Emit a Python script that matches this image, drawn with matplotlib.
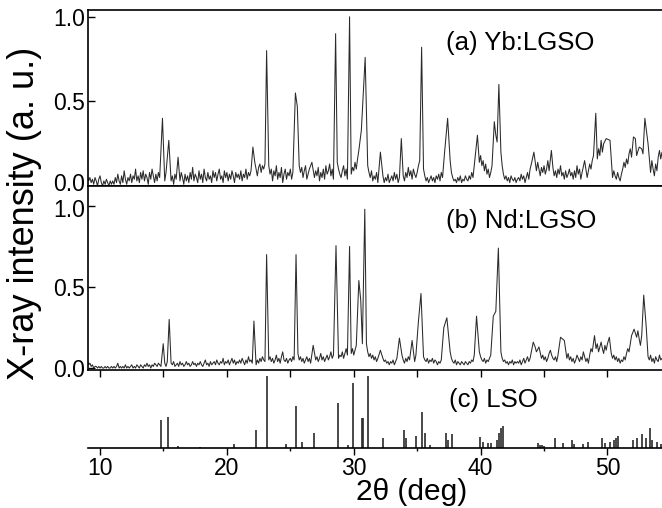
import numpy as np
import matplotlib
matplotlib.use("Agg")
import matplotlib.pyplot as plt
import matplotlib.transforms as mtransforms
from matplotlib.ticker import MultipleLocator

plt.rcParams['font.family'] = ['Liberation Sans', 'DejaVu Sans']

# ---------------- data ----------------
# background noise of the traces, read every 0.1 deg starting at 9.0 deg
bg_start, bg_step = 9.0, 0.1

yb_bg = [
    0.06, 0.03, 0.05, 0.02, 0.04, 0.01, 0.05, 0.03, 0.00, 0.04, 0.06, 0.02, 0.00, 0.03, 0.01, 0.04, 0.02, 0.00, 0.03, 0.01,
    0.03, 0.01, 0.05, 0.02, 0.07, 0.03, 0.01, 0.06, 0.02, 0.09, 0.04, 0.01, 0.05, 0.03, 0.07, 0.02, 0.06, 0.04, 0.10, 0.03,
    0.06, 0.02, 0.08, 0.04, 0.09, 0.03, 0.07, 0.05, 0.01, 0.08, 0.04, 0.10, 0.06, 0.02, 0.07, 0.03, 0.08, 0.05, 0.09, 0.04,
    0.06, 0.03, 0.08, 0.02, 0.05, 0.09, 0.03, 0.06, 0.01, 0.07, 0.04, 0.02, 0.06, 0.03, 0.08, 0.05, 0.01, 0.07, 0.03, 0.06,
    0.02, 0.08, 0.04, 0.11, 0.03, 0.07, 0.05, 0.02, 0.09, 0.04, 0.07, 0.02, 0.10, 0.05, 0.03, 0.08, 0.04, 0.06, 0.02, 0.09,
    0.05, 0.08, 0.03, 0.07, 0.10, 0.04, 0.06, 0.02, 0.09, 0.05, 0.08, 0.03, 0.07, 0.04, 0.09, 0.06, 0.02, 0.08, 0.05, 0.07,
    0.04, 0.09, 0.03, 0.07, 0.05, 0.10, 0.04, 0.08, 0.06, 0.09, 0.12, 0.08, 0.14, 0.10, 0.06, 0.11, 0.13, 0.08, 0.12, 0.10,
    0.13, 0.10, 0.05, 0.12, 0.07, 0.10, 0.03, 0.09, 0.06, 0.12, 0.04, 0.08, 0.05, 0.11, 0.02, 0.07, 0.10, 0.04, 0.08, 0.06,
    0.10, 0.04, 0.08, 0.12, 0.10, 0.14, 0.17, 0.12, 0.08, 0.11, 0.05, 0.09, 0.12, 0.04, 0.07, 0.10, 0.06, 0.13, 0.08, 0.05,
    0.09, 0.06, 0.11, 0.03, 0.08, 0.05, 0.10, 0.04, 0.12, 0.07, 0.09, 0.13, 0.06, 0.10, 0.04, 0.12, 0.08, 0.14, 0.10, 0.07,
    0.05, 0.09, 0.12, 0.06, 0.10, 0.04, 0.08, 0.13, 0.07, 0.11, 0.09, 0.14, 0.10, 0.16, 0.21, 0.18, 0.24, 0.20, 0.22, 0.26,
    0.18, 0.12, 0.08, 0.05, 0.09, 0.03, 0.06, 0.04, 0.08, 0.02, 0.05, 0.07, 0.03, 0.06, 0.02, 0.05, 0.03, 0.07, 0.02, 0.04,
    0.06, 0.03, 0.08, 0.04, 0.07, 0.02, 0.05, 0.09, 0.04, 0.06, 0.03, 0.08, 0.05, 0.11, 0.06, 0.09, 0.04, 0.10, 0.07, 0.05,
    0.08, 0.12, 0.15, 0.20, 0.14, 0.10, 0.06, 0.03, 0.05, 0.02, 0.04, 0.06, 0.03, 0.05, 0.02, 0.06, 0.04, 0.07, 0.03, 0.08,
    0.05, 0.10, 0.14, 0.12, 0.17, 0.20, 0.15, 0.08, 0.05, 0.03, 0.04, 0.02, 0.05, 0.03, 0.06, 0.02, 0.04, 0.03, 0.06, 0.04,
    0.03, 0.06, 0.04, 0.08, 0.05, 0.12, 0.19, 0.16, 0.21, 0.14, 0.18, 0.12, 0.15, 0.09, 0.13, 0.07, 0.10, 0.05, 0.08, 0.12,
    0.24, 0.27, 0.30, 0.26, 0.33, 0.28, 0.20, 0.12, 0.07, 0.04, 0.06, 0.03, 0.05, 0.02, 0.06, 0.04, 0.03, 0.05, 0.02, 0.04,
    0.05, 0.03, 0.07, 0.04, 0.06, 0.02, 0.05, 0.08, 0.04, 0.10, 0.13, 0.08, 0.16, 0.12, 0.09, 0.14, 0.10, 0.06, 0.11, 0.08,
    0.12, 0.07, 0.10, 0.15, 0.09, 0.13, 0.08, 0.11, 0.06, 0.09, 0.05, 0.10, 0.07, 0.12, 0.06, 0.08, 0.04, 0.09, 0.05, 0.07,
    0.10, 0.06, 0.08, 0.04, 0.09, 0.05, 0.12, 0.07, 0.10, 0.04, 0.08, 0.06, 0.11, 0.07, 0.05, 0.09, 0.13, 0.10, 0.15, 0.18,
    0.12, 0.20, 0.16, 0.22, 0.18, 0.27, 0.20, 0.25, 0.23, 0.15, 0.10, 0.14, 0.08, 0.12, 0.05, 0.09, 0.06, 0.04, 0.08, 0.05,
    0.03, 0.07, 0.10, 0.14, 0.11, 0.16, 0.13, 0.19, 0.22, 0.17, 0.25, 0.20, 0.28, 0.18, 0.24, 0.15, 0.30, 0.22, 0.19, 0.32,
    0.18, 0.10, 0.06, 0.12, 0.08, 0.15, 0.10, 0.06, 0.13, 0.09, 0.17, 0.21, 0.16, 0.20, 0.14,
]

nd_bg = [
    0.05, 0.02, 0.03, 0.01, 0.02, 0.00, 0.01, 0.01, 0.00, 0.01, 0.00, 0.01, 0.00, 0.00, 0.01, 0.00, 0.01, 0.00, 0.00, 0.01,
    0.00, 0.01, 0.00, 0.01, 0.03, 0.00, 0.01, 0.00, 0.01, 0.00, 0.02, 0.00, 0.01, 0.00, 0.01, 0.02, 0.00, 0.01, 0.00, 0.02,
    0.01, 0.00, 0.02, 0.01, 0.00, 0.02, 0.01, 0.03, 0.01, 0.02, 0.00, 0.02, 0.01, 0.03, 0.02, 0.01, 0.03, 0.02, 0.01, 0.03,
    0.02, 0.03, 0.01, 0.04, 0.02, 0.01, 0.03, 0.02, 0.04, 0.01, 0.02, 0.03, 0.01, 0.04, 0.02, 0.03, 0.01, 0.02, 0.04, 0.02,
    0.03, 0.01, 0.02, 0.04, 0.02, 0.03, 0.01, 0.03, 0.02, 0.04, 0.02, 0.01, 0.03, 0.05, 0.02, 0.03, 0.01, 0.04, 0.02, 0.03,
    0.04, 0.02, 0.05, 0.03, 0.02, 0.04, 0.03, 0.06, 0.02, 0.04, 0.03, 0.05, 0.02, 0.04, 0.06, 0.03, 0.05, 0.02, 0.04, 0.03,
    0.05, 0.03, 0.06, 0.04, 0.02, 0.05, 0.03, 0.07, 0.04, 0.05, 0.03, 0.06, 0.04, 0.02, 0.05, 0.03, 0.06, 0.04, 0.07, 0.05,
    0.04, 0.06, 0.03, 0.05, 0.07, 0.04, 0.06, 0.03, 0.05, 0.08, 0.04, 0.06, 0.03, 0.07, 0.10, 0.05, 0.04, 0.06, 0.03, 0.05,
    0.06, 0.04, 0.07, 0.05, 0.08, 0.06, 0.09, 0.05, 0.07, 0.04, 0.06, 0.03, 0.05, 0.07, 0.04, 0.06, 0.03, 0.05, 0.07, 0.04,
    0.05, 0.07, 0.04, 0.06, 0.09, 0.05, 0.07, 0.04, 0.06, 0.08, 0.05, 0.07, 0.10, 0.06, 0.08, 0.05, 0.07, 0.09, 0.06, 0.08,
    0.07, 0.10, 0.06, 0.09, 0.12, 0.08, 0.10, 0.07, 0.09, 0.12, 0.08, 0.11, 0.14, 0.18, 0.24, 0.30, 0.35, 0.28, 0.22, 0.30,
    0.15, 0.10, 0.07, 0.09, 0.06, 0.08, 0.05, 0.07, 0.04, 0.06, 0.08, 0.05, 0.03, 0.06, 0.04, 0.05, 0.03, 0.04, 0.02, 0.04,
    0.03, 0.05, 0.02, 0.04, 0.06, 0.03, 0.05, 0.04, 0.08, 0.05, 0.03, 0.06, 0.04, 0.07, 0.05, 0.03, 0.09, 0.06, 0.04, 0.08,
    0.10, 0.14, 0.20, 0.16, 0.10, 0.07, 0.05, 0.04, 0.06, 0.03, 0.05, 0.04, 0.06, 0.03, 0.05, 0.04, 0.02, 0.04, 0.03, 0.05,
    0.08, 0.12, 0.18, 0.22, 0.26, 0.18, 0.10, 0.06, 0.04, 0.03, 0.05, 0.02, 0.04, 0.03, 0.02, 0.04, 0.03, 0.02, 0.04, 0.03,
    0.02, 0.04, 0.03, 0.05, 0.04, 0.08, 0.15, 0.12, 0.18, 0.10, 0.07, 0.05, 0.04, 0.06, 0.03, 0.05, 0.04, 0.06, 0.08, 0.12,
    0.20, 0.28, 0.35, 0.30, 0.22, 0.15, 0.10, 0.06, 0.04, 0.05, 0.03, 0.04, 0.02, 0.04, 0.03, 0.05, 0.02, 0.04, 0.03, 0.04,
    0.03, 0.05, 0.02, 0.04, 0.06, 0.03, 0.05, 0.07, 0.04, 0.06, 0.10, 0.12, 0.08, 0.13, 0.10, 0.07, 0.11, 0.09, 0.06, 0.08,
    0.05, 0.07, 0.04, 0.06, 0.09, 0.11, 0.08, 0.06, 0.05, 0.07, 0.04, 0.08, 0.10, 0.12, 0.15, 0.10, 0.13, 0.08, 0.06, 0.09,
    0.05, 0.07, 0.04, 0.06, 0.03, 0.05, 0.08, 0.06, 0.04, 0.07, 0.05, 0.10, 0.07, 0.04, 0.06, 0.03, 0.08, 0.12, 0.10, 0.14,
    0.08, 0.12, 0.15, 0.10, 0.13, 0.16, 0.12, 0.09, 0.14, 0.11, 0.15, 0.18, 0.13, 0.09, 0.06, 0.08, 0.05, 0.07, 0.04, 0.06,
    0.03, 0.05, 0.04, 0.07, 0.05, 0.09, 0.12, 0.10, 0.15, 0.20, 0.17, 0.22, 0.16, 0.19, 0.23, 0.18, 0.14, 0.20, 0.25, 0.22,
    0.16, 0.10, 0.07, 0.05, 0.08, 0.04, 0.06, 0.03, 0.07, 0.05, 0.04, 0.08, 0.05, 0.06, 0.04,
]

# peak vertices (2theta, intensity)
yb_peak_x = [14.92, 15.42, 16.15, 22.05, 23.13, 25.40, 25.55, 26.70, 28.57, 29.67,
             30.60, 30.90, 32.10, 33.75, 35.35, 37.15, 37.40, 39.75, 41.08, 41.44,
             44.20, 45.58, 48.20, 49.08, 49.90, 50.20, 52.05, 52.50, 52.95, 53.20]
yb_peak_y = [0.40, 0.27, 0.17, 0.23, 0.80, 0.55, 0.47, 0.14, 0.90, 1.00,
             0.33, 0.76, 0.20, 0.28, 0.82, 0.19, 0.40, 0.30, 0.38, 0.60,
             0.20, 0.21, 0.15, 0.43, 0.28, 0.27, 0.29, 0.23, 0.40, 0.25]

nd_peak_x = [14.98, 15.45, 22.13, 23.13, 25.45, 26.80, 28.60, 29.67, 30.40, 30.55,
             30.68, 30.87, 32.10, 33.60, 34.60, 35.10, 35.30, 37.10, 37.34, 39.68,
             41.00, 41.40, 44.15, 44.60, 46.30, 46.60, 48.98, 50.15, 52.10, 52.86,
             53.05]
nd_peak_y = [0.15, 0.30, 0.29, 0.70, 0.70, 0.14, 0.755, 0.75, 0.54, 0.42,
             0.15, 0.98, 0.11, 0.185, 0.17, 0.29, 0.46, 0.25, 0.31, 0.32,
             0.32, 0.74, 0.16, 0.13, 0.19, 0.17, 0.20, 0.19, 0.24, 0.45,
             0.26]

# LSO reference lines
lso_x = [14.81, 15.38, 16.17, 17.90, 20.57, 22.28, 23.13, 24.65, 25.45, 25.90,
         26.87, 28.77, 29.56, 29.95, 30.66, 30.72, 31.13, 32.30, 33.94, 34.10,
         34.90, 35.40, 35.63, 35.98, 37.29, 37.45, 37.74, 39.98, 40.20, 40.60,
         40.80, 41.30, 41.42, 41.60, 41.75, 44.55, 44.70, 44.85, 45.00, 45.90,
         46.50, 47.20, 47.40, 48.10, 48.50, 49.60, 49.80, 50.20, 50.50, 50.70,
         50.80, 52.00, 52.30, 52.70, 53.00, 53.35, 53.55, 53.90, 54.20]
lso_y = [0.38, 0.43, 0.02, 0.01, 0.05, 0.24, 1.00, 0.05, 0.585, 0.08,
         0.20, 0.63, 0.03, 0.90, 0.42, 0.42, 1.00, 0.13, 0.25, 0.13,
         0.16, 0.50, 0.20, 0.03, 0.20, 0.11, 0.19, 0.15, 0.08, 0.07,
         0.07, 0.10, 0.20, 0.28, 0.30, 0.06, 0.04, 0.03, 0.02, 0.13,
         0.07, 0.10, 0.05, 0.05, 0.08, 0.13, 0.06, 0.08, 0.10, 0.14,
         0.16, 0.10, 0.13, 0.19, 0.13, 0.27, 0.11, 0.08, 0.05]

labels = ["(a) Yb:LGSO", "(b) Nd:LGSO", "(c) LSO"]
y_ticks = [0.0, 0.5, 1.0]
x_ticks = [10, 20, 30, 40, 50]


def build_trace(bg, px, py, win=0.12):
    bg = np.asarray(bg, float)
    bx = bg_start + bg_step * np.arange(len(bg))
    px = np.asarray(px, float)
    py = np.asarray(py, float)
    keep = np.ones(len(bx), bool)
    for p in px:
        keep &= np.abs(bx - p) >= win
    x = np.concatenate([bx[keep], px])
    y = np.concatenate([bg[keep], py])
    o = np.argsort(x)
    return x[o], y[o]


# ---------------- figure ----------------
W, H = 662, 508
fig = plt.figure(figsize=(W / 100, H / 100), dpi=100)


def fr(x0, y_top, x1, y_bot):
    return [x0 / W, 1 - y_bot / H, (x1 - x0) / W, (y_bot - y_top) / H]


ax_a = fig.add_axes(fr(88, 9.5, 662, 186))
ax_b = fig.add_axes(fr(88, 186, 662, 370))
ax_c = fig.add_axes(fr(88, 370, 662, 447.5))

line_col = '#2a2a2a'
xlim = (9.05, 54.3)

for ax, bg, px, py, lab, ylim, ly in [
        (ax_a, yb_bg, yb_peak_x, yb_peak_y, labels[0], (0.0, 1.043), 0.846),
        (ax_b, nd_bg, nd_peak_x, nd_peak_y, labels[1], (-0.012, 1.123), 0.91)]:
    x, y = build_trace(bg, px, py)
    ax.plot(x, y, color=line_col, lw=0.75)
    ax.set_xlim(*xlim)
    ax.set_ylim(*ylim)
    ax.set_yticks(y_ticks)
    ax.set_yticklabels([f"{v:.1f}" for v in y_ticks])
    ax.xaxis.set_major_locator(MultipleLocator(5))
    ax.tick_params(axis='x', direction='out', length=5, width=1.0,
                   labelbottom=False)
    ax.tick_params(axis='y', direction='in', length=5, width=1.0,
                   labelsize=16.5, pad=2)
    ax.spines['right'].set_visible(False)
    for s in ('left', 'top', 'bottom'):
        ax.spines[s].set_linewidth(1.2)
    ax.text(37.3, ly, lab, fontsize=18.5, va='center', ha='left')

# the "0.0" of the top panel sits a little higher, as in the reference
fig.canvas.draw()
shift_up = mtransforms.ScaledTranslation(0, 4 / 100, fig.dpi_scale_trans)
for t in ax_a.get_yticklabels():
    if t.get_text() == "0.0":
        t.set_transform(t.get_transform() + shift_up)
shift_dn = mtransforms.ScaledTranslation(0, -2 / 100, fig.dpi_scale_trans)
for t in ax_b.get_yticklabels():
    if t.get_text() == "1.0":
        t.set_transform(t.get_transform() + shift_dn)

ax_c.vlines(lso_x, 0, lso_y, color=line_col, lw=1.2)
ax_c.set_xlim(*xlim)
ax_c.set_ylim(0, 1.085)
ax_c.set_yticks([])
ax_c.set_xticks(x_ticks)
ax_c.xaxis.set_minor_locator(MultipleLocator(5))
ax_c.tick_params(axis='x', which='major', direction='out', length=5,
                 width=1.0, labelsize=16.5, pad=2)
ax_c.tick_params(axis='x', which='minor', direction='out', length=2.5,
                 width=1.0)
for s in ('left', 'top', 'right'):
    ax_c.spines[s].set_visible(False)
ax_c.spines['bottom'].set_linewidth(1.2)
ax_c.patch.set_alpha(0)
ax_c.text(37.5, 0.67, labels[2], fontsize=18.5, va='center', ha='left')

fig.text(25 / W, 1 - 213 / H, "X-ray intensity (a. u.)", rotation=90,
         fontsize=26, ha='center', va='center')
fig.text(412 / W, 1 - 492 / H, "2\u03b8 (deg)", fontsize=21.5,
         ha='center', va='center')

fig.savefig("out.png", dpi=100)
